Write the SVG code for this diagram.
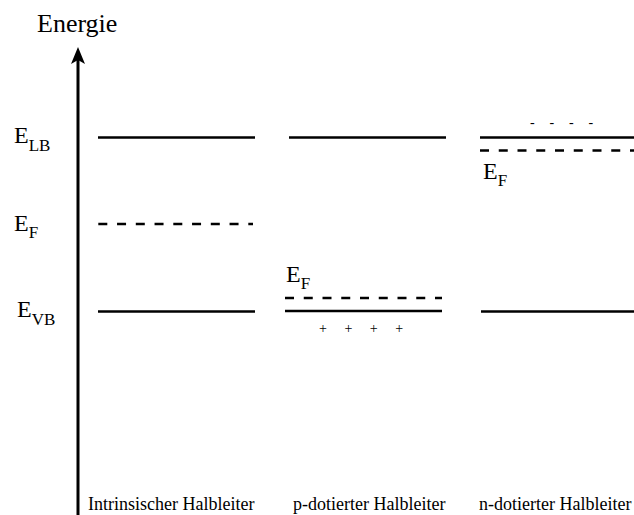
<svg xmlns="http://www.w3.org/2000/svg" width="634" height="515" viewBox="0 0 634 515">
<style>
text{font-family:'Liberation Serif','Tinos','Times New Roman','DejaVu Serif',serif;fill:#000}
.lbl{font-size:24px}
.sub{font-size:17px}
.cap{font-size:18px}
.solid{stroke:#000;stroke-width:2.5;fill:none}
.dash{stroke:#000;stroke-width:2.5;fill:none;stroke-dasharray:9 9.75}
</style>
<rect width="634" height="515" fill="#fff"/>
<g id="axis">
<line x1="78" y1="515" x2="78" y2="58" stroke="#000" stroke-width="3"/>
<path d="M78,47 L85,64 L78,60 L71,64 Z" fill="#000"/>
<text x="37" y="32" font-family="Liberation Serif, serif" style="font-size:26px">Energie</text>
</g>
<g id="labels">
<text class="lbl" x="14" y="143">E<tspan class="sub" dy="8">LB</tspan></text>
<text class="lbl" x="14" y="231">E<tspan class="sub" dy="7">F</tspan></text>
<text class="lbl" x="17" y="317">E<tspan class="sub" dy="8">VB</tspan></text>
</g>
<g id="connectors">
<line class="solid" x1="98" y1="137.5" x2="255" y2="137.5"/>
<line class="dash" x1="98.3" y1="224" x2="253" y2="224"/>
<line class="solid" x1="98" y1="311.5" x2="255" y2="311.5"/>
<line class="solid" x1="289" y1="137.5" x2="446" y2="137.5"/>
<line class="dash" x1="285" y1="298" x2="442" y2="298"/>
<line class="solid" x1="285" y1="311" x2="442" y2="311"/>
<line class="solid" x1="480" y1="137.5" x2="634" y2="137.5"/>
<line class="dash" x1="480" y1="150.5" x2="634" y2="150.5"/>
<line class="solid" x1="481" y1="311.5" x2="634" y2="311.5"/>
</g>
<g id="intrinsic">
<text class="cap" x="88" y="510">Intrinsischer Halbleiter</text>
</g>
<g id="p-type">
<text class="lbl" x="286" y="282">E<tspan class="sub" dy="7">F</tspan></text>
<text x="319" y="333" style="font-size:14px;word-spacing:14px">+ + + +</text>
<text class="cap" x="293" y="510">p-dotierter Halbleiter</text>
</g>
<g id="n-type">
<text class="lbl" x="483" y="179">E<tspan class="sub" dy="7">F</tspan></text>
<text x="530" y="127" style="font-size:14px;word-spacing:11.3px">- - - -</text>
<text class="cap" x="479" y="510">n-dotierter Halbleiter</text>
</g>
</svg>
